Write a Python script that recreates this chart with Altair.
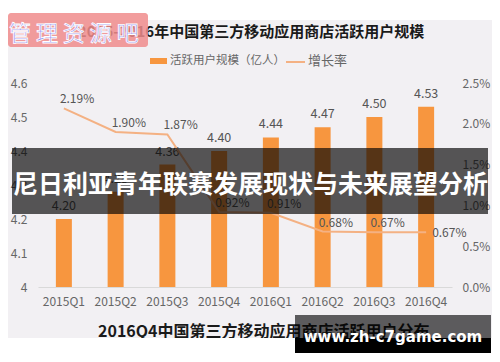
import altair as alt
import pandas as pd

quarters = ["2015Q1", "2015Q2", "2015Q3", "2015Q4", "2016Q1", "2016Q2", "2016Q3", "2016Q4"]
users = [4.20, 4.28, 4.36, 4.40, 4.44, 4.47, 4.50, 4.53]
growth = [0.0219, 0.0190, 0.0187, 0.0092, 0.0091, 0.0068, 0.0067, 0.0067]

title_text = "2015-2016年中国第三方移动应用商店活跃用户规模"
legend_bar = "活跃用户规模（亿人）"
legend_line = "增长率"
subtitle_text = "2016Q4中国第三方移动应用商店活跃用户分布"
banner_text = "尼日利亚青年联赛发展现状与未来展望分析"
site_text = "www.zh-c7game.com"
logo_text = "管 理 资 源 吧"

FONT = "Noto Sans CJK SC"
ORANGE = "#F7963F"
PEACH = "#F4B183"
BG = "#F2F0F3"

df = pd.DataFrame({"quarter": quarters, "users": users, "growth": growth})
one = pd.DataFrame({"k": [0]})


def txt(s):
    return pd.DataFrame({"t": [s]})


def rect(x, x2, y, y2, color, opacity=1.0, **kw):
    return alt.Chart(one).mark_rect(color=color, opacity=opacity, **kw).encode(
        x=alt.value(x), x2=alt.value(x2), y=alt.value(y), y2=alt.value(y2)
    )


def label(s, x, y, **kw):
    return alt.Chart(txt(s)).mark_text(**kw).encode(
        x=alt.value(x), y=alt.value(y), text="t:N"
    )


xenc = alt.X(
    "quarter:N",
    sort=quarters,
    scale=alt.Scale(paddingInner=0, paddingOuter=0),
    axis=alt.Axis(
        title=None, labelAngle=0, ticks=False, labelPadding=9,
        labelFont=FONT, labelFontSize=12, labelColor="#666666",
        domainColor="#D9D9D9", grid=False, zindex=0,
    ),
)

yleft = alt.Y(
    "users:Q",
    scale=alt.Scale(domain=[4, 4.6], zero=False, nice=False),
    axis=alt.Axis(
        title=None, values=[4, 4.1, 4.2, 4.3, 4.4, 4.5, 4.6], format="~g",
        ticks=False, domain=False, grid=False, labelPadding=11, zindex=0,
        labelFont=FONT, labelFontSize=12, labelColor="#666666", orient="left",
    ),
)

yright = alt.Y(
    "growth:Q",
    scale=alt.Scale(domain=[0, 0.025], nice=False),
    axis=alt.Axis(
        title=None, values=[0, 0.005, 0.01, 0.015, 0.02, 0.025], format=".1%",
        ticks=False, domain=False, grid=False, labelPadding=10, zindex=0,
        labelFont=FONT, labelFontSize=12, labelColor="#666666", orient="right",
    ),
)

white_top = rect(-30, 454, -75, -63, "#FFFFFF")
title = label(title_text, 213, -51, font=FONT, fontSize=15, fontWeight="bold",
              color="#1A1A1A", align="center", baseline="middle")
leg_rect = rect(112, 129, -25, -19, ORANGE)
leg_t1 = label(legend_bar, 132, -22, font=FONT, fontSize=11.5, color="#666666",
               align="left", baseline="middle")
leg_line = alt.Chart(one).mark_rule(color=PEACH, strokeWidth=2).encode(
    x=alt.value(248), x2=alt.value(267), y=alt.value(-21)
)
leg_t2 = label(legend_line, 270, -22, font=FONT, fontSize=13, color="#666666",
               align="left", baseline="middle")

base = alt.Chart(df)
bars = base.mark_bar(color=ORANGE, size=16).encode(x=xenc, y=yleft, y2=alt.datum(4))
bar_labels = base.mark_text(font=FONT, fontSize=12.5, color="#555555",
                            baseline="middle", dy=-13).encode(
    x=xenc, y=yleft, text=alt.Text("users:Q", format=".2f")
)

left = alt.layer(white_top, title, leg_rect, leg_t1, leg_line, leg_t2, bars, bar_labels)

line = base.mark_line(color=PEACH, strokeWidth=2).encode(x=xenc, y=yright)
line_labels = base.transform_filter(alt.datum.quarter != "2016Q4").mark_text(
    font=FONT, fontSize=12, color="#555555", align="left", baseline="middle", dx=-4, dy=-9
).encode(x=xenc, y=yright, text=alt.Text("growth:Q", format=".2%"))
last_label = base.transform_filter(alt.datum.quarter == "2016Q4").mark_text(
    font=FONT, fontSize=12, color="#555555", align="left", baseline="middle", dx=6, dy=1
).encode(x=xenc, y=yright, text=alt.Text("growth:Q", format=".2%"))

subtitle = label(subtitle_text, 60, 249, font=FONT, fontSize=16, fontWeight="bold",
                 color="#1A1A1A", align="left", baseline="middle")
white_cover = rect(-30, 454, 255, 275, "#FFFFFF")
banner = rect(-26, 450, 65, 131, "#000000", opacity=0.65)
banner_t = label(banner_text, -25, 102, font=FONT, fontSize=25, fontWeight="bold",
                 color="#FFFFFF", align="left", baseline="middle")
box_top = rect(257, 453, 232, 255, "#000000", opacity=0.62)
box_bot = rect(257, 453, 255, 270, "#000000")
box_t = label(site_text, 355, 259, font="DejaVu Sans", fontSize=15, fontWeight="bold",
              color="#FFFFFF", align="center", baseline="alphabetic")
logo_bg = rect(-30, 110, -70, -36, "#F08C8C", opacity=0.85, cornerRadius=3)
logo_t = label(logo_text, -29, -49, font=FONT, fontSize=22, color="#9494F2",
               stroke="#FFFFFF", strokeWidth=0.8, align="left", baseline="middle")

right = alt.layer(line, line_labels, last_label, subtitle, white_cover, banner, banner_t,
                  box_top, box_bot, box_t, logo_bg, logo_t)

chart = alt.layer(left, right).resolve_scale(y="independent").properties(
    width=414, height=204,
    padding={"left": 30, "top": 75, "right": 40, "bottom": 67},
    autosize=alt.AutoSizeParams(type="none"),
    background=BG,
).configure_view(stroke=None)

chart.save("out.html", embed_options={"renderer": "svg", "actions": False})
